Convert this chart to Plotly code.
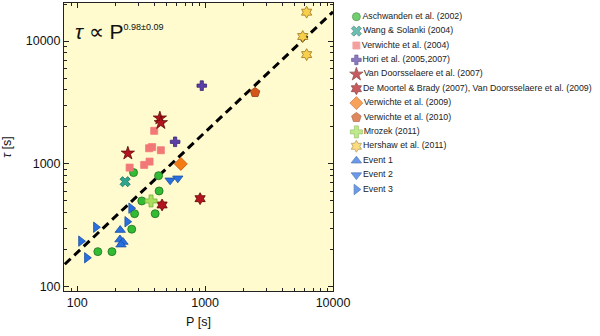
import numpy as np
import plotly.graph_objects as go

# ---------------- data ----------------
asch_P = [145, 187, 267, 281, 320, 407, 437, 433, 276]
asch_T = [193, 193, 294, 393, 499, 393, 602, 802, 849]

wang_P = [237]
wang_T = [716]

verw04_P = [400, 365, 385, 451, 368, 334, 257]
verw04_T = [1859, 1341, 1370, 1291, 1044, 981, 933]

hori_P = [942, 583]
hori_T = [4335, 1513]

vand07_P = [249, 443, 451]
vand07_T = [1220, 2357, 2161]

demo_P = [461, 914]
demo_T = [463, 521]

verw09_P = [646]
verw09_T = [1000]

verw10_P = [2459]
verw10_T = [3819]

mroz_P = [378]
mroz_T = [499]

hers_P = [6222, 5800, 6222]
hers_T = [17190, 10890, 7760]

ev1_P = [217, 216, 228, 220]
ev1_T = [289, 242, 231, 220]

ev2_P = [533, 612]
ev2_T = [735, 763]

ev3_P = [107, 119, 140, 246, 264]
ev3_T = [235, 172, 305, 338, 436]

# fit tau = A * P^alpha
fit_alpha = 0.98
fit_logA = 0.318
fit_P = [80, 10000]

tick_vals = [100, 1000, 10000]
tick_text = ["100", "1000", "10000"]

names = ["Aschwanden et al. (2002)", "Wang & Solanki (2004)", "Verwichte et al. (2004)",
         "Hori et al. (2005,2007)", "Van Doorsselaere et al. (2007)",
         "De Moortel & Brady (2007), Van Doorsselaere et al. (2009)",
         "Verwichte et al. (2009)", "Verwichte et al. (2010)", "Mrozek (2011)",
         "Hershaw et al. (2011)", "Event 1", "Event 2", "Event 3"]

# ---------------- styles ----------------
series = [
    (asch_P, asch_T, "circle", "#33bb33", "#1f6f1f", 8),
    (wang_P, wang_T, "x", "#2fa58f", "#1d6f60", 9),
    (verw04_P, verw04_T, "square", "#f27878", "#f27878", 7),
    (hori_P, hori_T, "cross", "#5a3fa6", "#3a2478", 8),
    (vand07_P, vand07_T, "star", "#b3141b", "#5e0a0a", 10),
    (demo_P, demo_T, "hexagram", "#b3141b", "#5e0a0a", 9),
    (verw09_P, verw09_T, "diamond", "#f47a14", "#c05010", 10),
    (verw10_P, verw10_T, "pentagon", "#d2561a", "#9a3a10", 10),
    (mroz_P, mroz_T, "cross", "#a6e05c", "#78b040", 10),
    (hers_P, hers_T, "hexagram", "#f7cf4a", "#9a7420", 9),
    (ev1_P, ev1_T, "triangle-up", "#2a6fe0", "#1a4fa0", 9),
    (ev2_P, ev2_T, "triangle-down", "#2a6fe0", "#1a4fa0", 9),
    (ev3_P, ev3_T, "triangle-right", "#2a6fe0", "#1a4fa0", 9),
]

fig = go.Figure()

fit_T = [10 ** fit_logA * p ** fit_alpha for p in fit_P]
fig.add_trace(go.Scatter(x=fit_P, y=fit_T, mode="lines",
                         line=dict(color="black", width=3, dash="8px,5px"),
                         showlegend=False, hoverinfo="skip"))

for (P, T, sym, col, lc, sz) in series:
    fig.add_trace(go.Scatter(x=P, y=T, mode="markers", showlegend=False,
                             marker=dict(symbol=sym, color=col, size=sz,
                                         line=dict(color=lc, width=0.8))))

# manual legend on an auxiliary axis
fig.add_trace(go.Scatter(
    x=[0.063] * len(names), y=list(range(len(names))), mode="markers+text",
    text=names, textposition="middle right",
    textfont=dict(family="Liberation Sans, Arial", size=8.8, color="#222"),
    marker=dict(symbol=[s[2] for s in series], color=[s[3] for s in series],
                size=[s[5] for s in series],
                line=dict(color=[s[4] for s in series], width=0.8)),
    xaxis="x2", yaxis="y2", showlegend=False, hoverinfo="skip", cliponaxis=False))

W, H = 600, 336
ml, mr, mt, mb = 64, 0, 3, 45
pw = W - ml - mr
ph = H - mt - mb
plot_right = 333

axis_font = dict(family="Liberation Sans, Arial", size=12.5, color="#111")
common = dict(type="log", showgrid=False, zeroline=False, ticks="inside", ticklen=5,
              tickwidth=1, tickcolor="#222", showline=True, linecolor="#222",
              linewidth=1, mirror="ticks", tickvals=tick_vals, ticktext=tick_text,
              tickfont=axis_font, automargin=False,
              minor=dict(ticks="inside", ticklen=3, tickcolor="#222", dtick="D1", showgrid=False))

fig.update_layout(
    width=W, height=H, margin=dict(l=ml, r=mr, t=mt, b=mb),
    paper_bgcolor="white", plot_bgcolor="white",
    xaxis=dict(**common, range=[1.897, 4.0], domain=[0, (plot_right - ml) / pw],
               title=dict(text="P [s]", font=axis_font, standoff=8)),
    yaxis=dict(**common, range=[1.965, 4.31],
               title=dict(text="<i>τ</i> [s]", font=axis_font, standoff=19)),
    xaxis2=dict(domain=[(340 - ml) / pw, 1], range=[0, 1], visible=False, anchor="y2"),
    yaxis2=dict(domain=[0, 1], range=[19.05, -0.951], visible=False, anchor="x2"),
    shapes=[dict(type="rect", xref="x domain", yref="y domain", x0=0, x1=1, y0=0, y1=1,
                 fillcolor="#fffbce", line=dict(width=0), layer="below")],
    annotations=[dict(xref="x domain", yref="y domain", x=0.035, y=0.90, xanchor="left",
                      yanchor="middle", showarrow=False,
                      text="<i>τ</i> ∝ P<sup><span style='font-size:9px'>0.98±0.09</span></sup>",
                      font=dict(family="Liberation Sans, Arial", size=21, color="#111"))],
)

fig.write_html("out.html", config={"displayModeBar": False},
               post_script="document.body.style.margin='0';")
